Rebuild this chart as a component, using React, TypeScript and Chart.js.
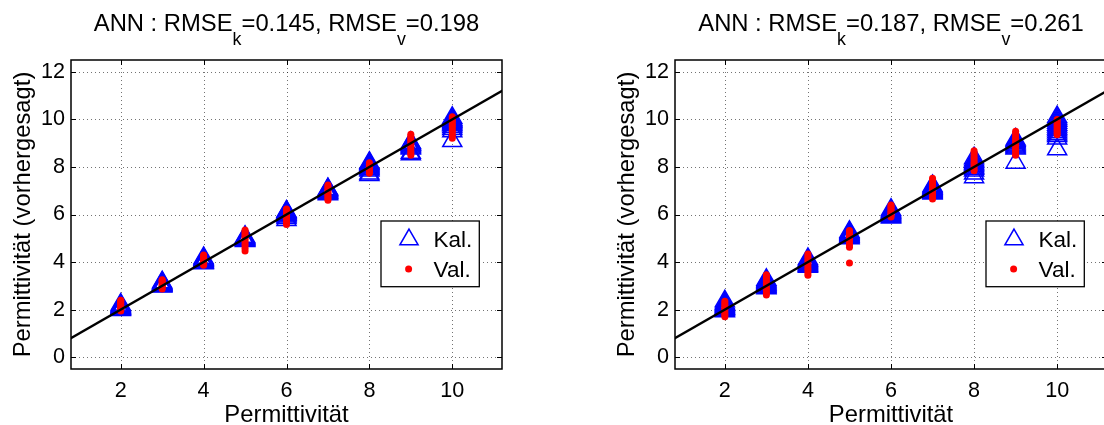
import React, { useEffect, useRef } from "react";
import { Chart, registerables } from "chart.js";

Chart.register(...registerables);

const FONT = '"Liberation Sans", Arial, Helvetica, sans-serif';

// ---- data ----
const permittivity = [2, 3, 4, 5, 6, 7, 8, 9, 10];

const kalLeft = [
  [1.98, 2.0, 2.01, 2.03, 2.05, 2.07, 2.09, 2.11, 2.14, 2.17, 2.21],
  [2.97, 2.99, 3.0, 3.02, 3.04, 3.06, 3.08, 3.1, 3.12, 3.15],
  [3.95, 3.97, 3.99, 4.0, 4.02, 4.05, 4.08, 4.1, 4.13, 4.17],
  [4.89, 4.91, 4.93, 4.95, 4.97, 4.99, 5.01, 5.03, 5.06],
  [5.77, 5.85, 5.92, 5.96, 5.99, 6.02, 6.05, 6.08, 6.11, 6.13],
  [6.85, 6.88, 6.91, 6.94, 6.97, 7.0, 7.03, 7.05, 7.07],
  [7.66, 7.72, 7.85, 7.9, 7.94, 7.98, 8.02, 8.06, 8.1, 8.14, 8.18],
  [8.53, 8.6, 8.78, 8.82, 8.86, 8.9, 8.93, 8.96, 9.0, 9.02],
  [9.09, 9.5, 9.6, 9.68, 9.75, 9.8, 9.85, 9.9, 9.95, 10.0, 10.07],
];

const valLeft = [
  [1.94, 1.99, 2.04, 2.09, 2.14, 2.19, 2.24, 2.29, 2.35, 2.39],
  [2.87, 2.92, 2.97, 3.02, 3.07, 3.12, 3.17, 3.21, 3.25],
  [3.86, 3.9, 3.95, 4.0, 4.05, 4.1, 4.15, 4.2, 4.25, 4.3],
  [4.46, 4.58, 4.7, 4.8, 4.9, 4.98, 5.05, 5.12, 5.2, 5.28, 5.35],
  [5.58, 5.68, 5.78, 5.86, 5.93, 6.0, 6.06, 6.12, 6.18, 6.23],
  [6.6, 6.67, 6.74, 6.81, 6.88, 6.95, 7.02, 7.09, 7.16, 7.24],
  [7.74, 7.8, 7.86, 7.92, 7.98, 8.04, 8.1, 8.18],
  [8.49, 8.58, 8.67, 8.76, 8.85, 8.94, 9.03, 9.12, 9.2, 9.29, 9.38],
  [9.21, 9.3, 9.4, 9.5, 9.6, 9.7, 9.78, 9.86, 9.94, 10.02, 10.11],
];

const kalRight = [
  [1.93, 1.97, 2.0, 2.03, 2.06, 2.1, 2.14, 2.18, 2.22, 2.27, 2.35],
  [2.9, 2.93, 2.96, 3.0, 3.04, 3.08, 3.12, 3.16, 3.2, 3.25],
  [3.8, 3.84, 3.88, 3.92, 3.96, 4.0, 4.04, 4.08, 4.13],
  [5.0, 5.03, 5.06, 5.09, 5.12, 5.15, 5.19, 5.23, 5.27],
  [5.87, 5.91, 5.95, 5.99, 6.03, 6.07, 6.11, 6.15, 6.2],
  [6.88, 6.92, 6.96, 7.0, 7.04, 7.08, 7.12, 7.16, 7.2],
  [7.57, 7.72, 7.85, 7.92, 7.98, 8.04, 8.1, 8.16, 8.22, 8.28, 8.37],
  [8.18, 8.78, 8.82, 8.86, 8.9, 8.95, 9.0, 9.05, 9.1, 9.16],
  [8.74, 9.2, 9.3, 9.38, 9.46, 9.54, 9.62, 9.7, 9.78, 9.86, 9.94, 10.02, 10.1],
];

const valRight = [
  [1.7, 1.78, 1.86, 1.94, 2.02, 2.1, 2.18, 2.26, 2.35],
  [2.61, 2.7, 2.8, 2.9, 3.0, 3.1, 3.2, 3.3, 3.38, 3.46],
  [3.44, 3.54, 3.64, 3.74, 3.84, 3.94, 4.04, 4.14, 4.24, 4.34],
  [3.96, 4.62, 4.7, 4.8, 4.9, 5.0, 5.1, 5.2, 5.27, 5.33],
  [5.9, 5.96, 6.02, 6.08, 6.14, 6.2, 6.27, 6.34, 6.4],
  [6.65, 6.75, 6.85, 6.95, 7.05, 7.15, 7.25, 7.35, 7.44, 7.52],
  [7.84, 7.93, 8.02, 8.11, 8.2, 8.3, 8.4, 8.5, 8.6, 8.68],
  [8.49, 8.6, 8.7, 8.8, 8.9, 9.0, 9.1, 9.2, 9.3, 9.4, 9.5],
  [9.35, 9.43, 9.51, 9.59, 9.67, 9.75, 9.83, 9.92, 10.0],
];

const xTicks = [2, 4, 6, 8, 10];
const yTicks = [0, 2, 4, 6, 8, 10, 12];
const xLimits = [0.8, 11.2];
const yLimits = [-0.5, 12.5];
const idealLine = [0, 12];

const leftTitle = ["ANN : RMSE", "k", "=0.145, RMSE", "v", "=0.198"];
const rightTitle = ["ANN : RMSE", "k", "=0.187, RMSE", "v", "=0.261"];
const legendLabels = ["Kal.", "Val."];
const xLabel = "Permittivität";
const yLabel = "Permittivität (vorhergesagt)";

// ---- helpers ----
function toPoints(groups: number[][]) {
  return permittivity.flatMap((p, i) => groups[i].map((v) => ({ x: p, y: v })));
}

const BLUE = "#0000ff";
const RED = "#ff0000";

function drawTriangle(ctx: CanvasRenderingContext2D, cx: number, cy: number, r: number) {
  ctx.beginPath();
  for (let k = 0; k < 3; k++) {
    const a = (k * 2 * Math.PI) / 3;
    const px = cx + Math.sin(a) * r;
    const py = cy - Math.cos(a) * r;
    if (k === 0) ctx.moveTo(px, py);
    else ctx.lineTo(px, py);
  }
  ctx.closePath();
}

const framePlugin = {
  id: "frame",
  beforeDatasetsDraw(chart: any) {
    const { ctx, chartArea: a, scales } = chart;
    const xs = scales.x;
    const ys = scales.y;
    ctx.save();
    ctx.strokeStyle = "rgba(0,0,0,0.55)";
    ctx.lineWidth = 1;
    ctx.setLineDash([1, 3]);
    for (const v of xTicks) {
      const px = Math.round(xs.getPixelForValue(v)) + 0.5;
      ctx.beginPath();
      ctx.moveTo(px, a.top);
      ctx.lineTo(px, a.bottom);
      ctx.stroke();
    }
    for (const v of yTicks) {
      const py = Math.round(ys.getPixelForValue(v)) + 0.5;
      ctx.beginPath();
      ctx.moveTo(a.left, py);
      ctx.lineTo(a.right, py);
      ctx.stroke();
    }
    ctx.setLineDash([]);
    ctx.strokeStyle = "#000";
    const tl = 5;
    for (const v of xTicks) {
      const px = Math.round(xs.getPixelForValue(v)) + 0.5;
      ctx.beginPath();
      ctx.moveTo(px, a.bottom);
      ctx.lineTo(px, a.bottom - tl);
      ctx.moveTo(px, a.top);
      ctx.lineTo(px, a.top + tl);
      ctx.stroke();
    }
    for (const v of yTicks) {
      const py = Math.round(ys.getPixelForValue(v)) + 0.5;
      ctx.beginPath();
      ctx.moveTo(a.left, py);
      ctx.lineTo(a.left + tl, py);
      ctx.moveTo(a.right, py);
      ctx.lineTo(a.right - tl, py);
      ctx.stroke();
    }
    ctx.lineWidth = 1.5;
    ctx.strokeRect(a.left, a.top, a.right - a.left, a.bottom - a.top);
    ctx.restore();
  },
};

function makeOverlay(titleParts: string[]) {
  return {
    id: "overlay",
    afterDraw(chart: any) {
      const { ctx, chartArea: a } = chart;
      ctx.save();
      // title with subscripts
      const mainFont = `23.8px ${FONT}`;
      const subFont = `17.8px ${FONT}`;
      const widths = titleParts.map((p, i) => {
        ctx.font = i % 2 === 1 ? subFont : mainFont;
        return ctx.measureText(p).width;
      });
      const total = widths.reduce((s, w) => s + w, 0);
      let x = (a.left + a.right) / 2 - total / 2;
      ctx.fillStyle = "#000";
      ctx.textAlign = "left";
      ctx.textBaseline = "alphabetic";
      titleParts.forEach((p, i) => {
        const sub = i % 2 === 1;
        ctx.font = sub ? subFont : mainFont;
        ctx.fillText(p, x, sub ? 45 : 31);
        x += widths[i];
      });

      // legend
      const bw = 98.3;
      const bh = 65.7;
      const bx = a.right - 22.7 - bw;
      const by = a.top + 161;
      ctx.fillStyle = "#fff";
      ctx.fillRect(bx, by, bw, bh);
      ctx.strokeStyle = "#000";
      ctx.lineWidth = 1.3;
      ctx.strokeRect(bx, by, bw, bh);
      ctx.strokeStyle = BLUE;
      ctx.lineWidth = 1.5;
      drawTriangle(ctx, bx + 28, by + 18.5, 10.5);
      ctx.stroke();
      ctx.fillStyle = RED;
      ctx.beginPath();
      ctx.arc(bx + 27.6, by + 48, 3.5, 0, Math.PI * 2);
      ctx.fill();
      ctx.fillStyle = "#000";
      ctx.font = `22.5px ${FONT}`;
      ctx.fillText(legendLabels[0], bx + 52.6, by + 25.5);
      ctx.fillText(legendLabels[1], bx + 52.6, by + 56);
      ctx.restore();
    },
  };
}

type PanelProps = {
  left: number;
  padLeft: number;
  padRight: number;
  kal: number[][];
  val: number[][];
  title: string[];
};

function Panel({ left, padLeft, padRight, kal, val, title }: PanelProps) {
  const ref = useRef<HTMLCanvasElement>(null);
  useEffect(() => {
    const tickFont = { family: FONT, size: 21.6 };
    const chart = new Chart(ref.current as HTMLCanvasElement, {
      type: "scatter",
      data: {
        datasets: [
          {
            label: "ideal",
            data: idealLine.map((v) => ({ x: v, y: v })),
            showLine: true,
            borderColor: "#000",
            borderWidth: 2.5,
            pointRadius: 0,
            order: 0,
          } as any,
          {
            label: legendLabels[1],
            data: toPoints(val),
            pointStyle: "circle",
            pointRadius: 3.5,
            pointBackgroundColor: RED,
            pointBorderWidth: 0,
            pointBorderColor: RED,
            order: 1,
          },
          {
            label: legendLabels[0],
            data: toPoints(kal),
            pointStyle: "triangle",
            pointRadius: 11,
            pointBorderWidth: 1.5,
            pointBorderColor: BLUE,
            pointBackgroundColor: "rgba(0,0,0,0)",
            order: 2,
          },
        ],
      },
      options: {
        animation: false,
        responsive: false,
        maintainAspectRatio: false,
        devicePixelRatio: 1,
        events: [],
        layout: { padding: { top: 60, left: padLeft, right: padRight, bottom: 0 } },
        plugins: { legend: { display: false }, tooltip: { enabled: false }, title: { display: false } },
        scales: {
          x: {
            type: "linear",
            min: xLimits[0],
            max: xLimits[1],
            afterBuildTicks: (s: any) => {
              s.ticks = xTicks.map((v) => ({ value: v }));
            },
            afterFit: (s: any) => {
              s.height = 56;
            },
            grid: { display: false, drawTicks: false },
            border: { display: false },
            ticks: {
              color: "#000",
              font: tickFont,
              padding: 9.5,
              maxRotation: 0,
              autoSkip: false,
              callback: (v: any) => String(v),
            },
            title: {
              display: true,
              text: xLabel,
              color: "#000",
              font: { family: FONT, size: 23.8, lineHeight: 0.8 },
              padding: 0,
            },
          },
          y: {
            type: "linear",
            min: yLimits[0],
            max: yLimits[1],
            afterBuildTicks: (s: any) => {
              s.ticks = yTicks.map((v) => ({ value: v }));
            },
            afterFit: (s: any) => {
              s.width = 71;
            },
            grid: { display: false, drawTicks: false },
            border: { display: false },
            ticks: {
              color: "#000",
              font: tickFont,
              padding: 6,
              autoSkip: false,
              callback: (v: any) => String(v),
            },
            title: {
              display: true,
              text: yLabel,
              color: "#000",
              font: { family: FONT, size: 23.8, lineHeight: 1.2 },
              padding: { top: 8.7, bottom: 0 },
            },
          },
        },
      },
      plugins: [framePlugin, makeOverlay(title)],
    } as any);
    return () => chart.destroy();
  }, []);
  return (
    <canvas
      ref={ref}
      width={560}
      height={425}
      style={{ position: "absolute", left, top: 0, width: 560, height: 425 }}
    />
  );
}

export default function App() {
  return (
    <div
      style={{
        position: "fixed",
        left: 0,
        top: 0,
        width: 1104,
        height: 425,
        overflow: "hidden",
        background: "#fff",
      }}
    >
      <Panel left={0} padLeft={0} padRight={58} kal={kalLeft} val={valLeft} title={leftTitle} />
      <Panel left={560} padLeft={44} padRight={13} kal={kalRight} val={valRight} title={rightTitle} />
    </div>
  );
}
